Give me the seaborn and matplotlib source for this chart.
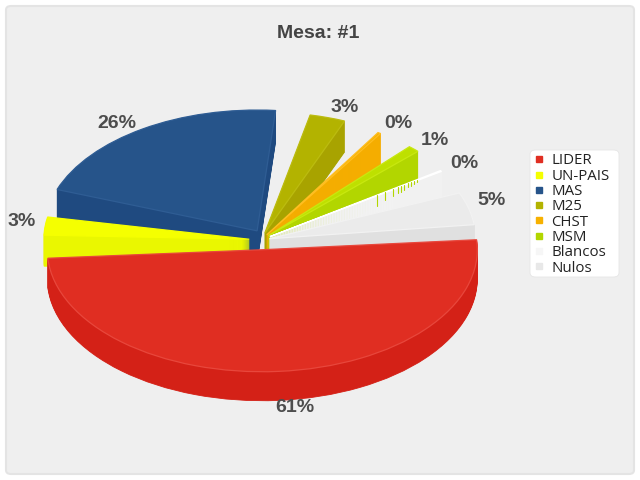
import matplotlib
matplotlib.use('Agg')
import matplotlib.pyplot as plt
import seaborn as sns
from matplotlib.lines import Line2D
from matplotlib.patches import FancyBboxPatch

# slices as they appear in the picture (degrees on the tilted disc)
parties = ['LIDER', 'UN-PAIS', 'MAS', 'M25', 'CHST', 'MSM', 'Blancos', 'Nulos']
pct_labels = ['61%', '3%', '26%', '3%', '0%', '1%', '0%', '5%']
slice_start = [184, 169, 85, 68, 57.5, 44.8, 33.8, 6.9]
slice_sweep = [180.7, 9, 75, 9.7, 0.8, 3.2, 0.5, 16.1]
slice_explode = [0.08, 0.055, 0.06, 0.06, 0.05, 0.05, 0.05, 0.04]
slice_radius = [1, 0.955, 0.99, 0.99, 0.985, 0.98, 0.96, 0.96]
slice_depth = [29, 31, 31, 31, 31, 31, 31, 31]
# MAS sits a bit higher and to the right of where its explode puts it
nudge_x = [0, 0, 3, 0, 0, 0, 0, 0]
nudge_y = [0, 0, 3, 0, 0, 0, 0, 0]

top_colors = ['#e02e22', '#f5ff00', '#26548a', '#b3b300', '#f7b100', '#bee000', '#f4f4f4', '#ebebeb']
wall_colors = ['#d42117', '#eaf700', '#1f4a80', '#a8a300', '#f5ad00', '#b2d600', '#f2f2f2', '#e0e0e0']
edge_colors = ['#e8473c', '#f5ff00', '#2f5d94', '#bcbc10', '#ffbe20', '#c8e810', '#ffffff', '#f2f2f2']
legend_colors = ['#e02e22', '#f5ff00', '#26548a', '#b3b300', '#f7b100', '#b2d600', '#f6f6f6', '#e8e8e8']

label_px = [(295, 408), (22, 221), (117, 123), (345, 107), (398, 123), (435, 140), (464, 163), (492, 200)]
draw_order = [2, 3, 4, 5, 6, 7, 1, 0]

sns.set_theme(style='white')
plt.rcParams['font.family'] = ['Liberation Sans', 'DejaVu Sans']

fig = plt.figure(figsize=(6.4, 4.8), dpi=100, facecolor='white')

# panel with rounded corners
panel = FancyBboxPatch((6 / 640, 6 / 480), 628 / 640, 468 / 480,
                       boxstyle='round,pad=0,rounding_size=0.008',
                       transform=fig.transFigure, facecolor='#efefef',
                       edgecolor='#e4e4e4', linewidth=1.5, zorder=0)
fig.add_artist(panel)

ax = fig.add_axes([0, 0, 1, 1], zorder=2)
ax.patch.set_alpha(0)


def one_slice(i, dz, color, edge, lw):
    ax.pie([slice_sweep[i] / 360], startangle=slice_start[i], normalize=False,
           explode=[slice_explode[i]], radius=slice_radius[i],
           center=(nudge_x[i] / 215, (nudge_y[i] - dz) / 122),
           colors=[color], wedgeprops={'edgecolor': edge, 'linewidth': lw})


for i in draw_order:
    for dz in range(slice_depth[i], 0, -1):
        one_slice(i, dz, wall_colors[i], wall_colors[i], 0.6)
    one_slice(i, 0, top_colors[i], edge_colors[i], 0.9)

# 1 unit = 215 px across, 122 px down, disc centre at pixel (261, 240)
ax.set_aspect('auto')
ax.set_xlim(-261 / 215, (640 - 261) / 215)
ax.set_ylim(-240 / 122, 240 / 122)
ax.set_axis_off()

# little green ticks showing through the Blancos wall
tick_x = [377, 385, 393, 398, 401, 404, 408, 411, 414, 417]
tick_top = [195, 192, 189, 187, 186, 185, 183, 182, 181, 180]
tick_len = [11, 8, 7, 6, 6, 5, 4, 4, 3, 2]
for x, top, n in zip(tick_x, tick_top, tick_len):
    fig.add_artist(Line2D([x / 640, x / 640], [1 - top / 480, 1 - (top + n) / 480],
                          color='#b2d600', linewidth=0.8, zorder=3))

fig.text(318.5 / 640, 1 - 34 / 480, 'Mesa: #1', ha='center', va='center',
         fontsize=14, fontweight='bold', color='#444444', zorder=4)
for (x, y), txt in zip(label_px, pct_labels):
    fig.text(x / 640, 1 - y / 480, txt, ha='center', va='center',
             fontsize=14, fontweight='bold', color='#4d4d4d', zorder=4)

# legend box, rounded white card behind the entries
card = FancyBboxPatch((530 / 640, 1 - 277 / 480), 89 / 640, 127 / 480,
                      boxstyle='round,pad=0,rounding_size=0.009',
                      transform=fig.transFigure, facecolor='white',
                      edgecolor='#e6e6e6', linewidth=0.6, zorder=4)
fig.add_artist(card)
handles = [Line2D([], [], linestyle='none', marker='s', markersize=4.8,
                  color=c, label=p) for c, p in zip(legend_colors, parties)]
leg = fig.legend(handles=handles, loc='upper left', bbox_to_anchor=(531 / 640, 1 - 149 / 480),
                 frameon=False, prop={'family': 'Open Sans', 'size': 10.8},
                 labelspacing=0.02, handlelength=0.5, handletextpad=0.55,
                 borderpad=0.3, borderaxespad=0)
leg.set_zorder(5)
for t in leg.get_texts():
    t.set_color('#222222')

fig.savefig('out.png', dpi=100)
